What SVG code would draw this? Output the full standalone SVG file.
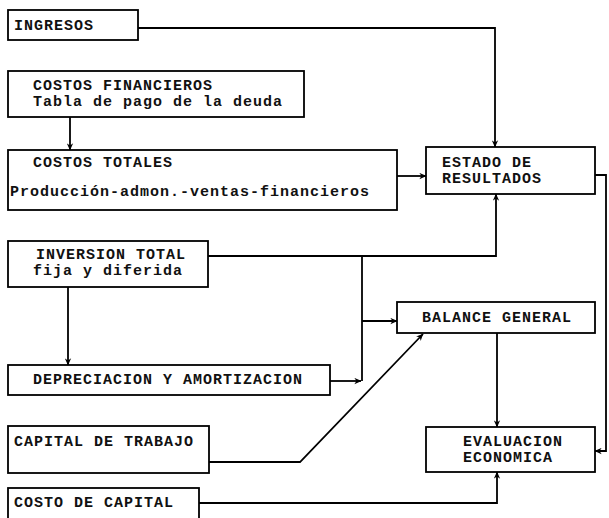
<svg xmlns="http://www.w3.org/2000/svg" width="609" height="518" viewBox="0 0 609 518">
<defs>
<marker id="ah" viewBox="0 0 10 10" refX="9.5" refY="5" markerWidth="7" markerHeight="7" orient="auto" markerUnits="userSpaceOnUse">
<path d="M0,0.5 L10,5 L0,9.5 L3,5 Z" fill="#000"/>
</marker>
<style>
.box{fill:#fff;stroke:#000;stroke-width:1.8}
.t{font-family:"Liberation Mono","Courier New",monospace;font-weight:bold;font-size:15px;letter-spacing:1px;fill:#111}
.c{fill:none;stroke:#000;stroke-width:1.8}
</style>
</defs>
<rect width="609" height="518" fill="#fff"/>
<g id="connectors">
<path class="c" d="M138,28 H495 V147" marker-end="url(#ah)"/>
<path class="c" d="M70,117 V150" marker-end="url(#ah)"/>
<path class="c" d="M397,176 H426" marker-end="url(#ah)"/>
<path class="c" d="M595,175 H606 V451 H595" marker-end="url(#ah)"/>
<path class="c" d="M208,256 H496 V194" marker-end="url(#ah)"/>
<path class="c" d="M362,256 V381"/>
<path class="c" d="M362,321 H397" marker-end="url(#ah)"/>
<path class="c" d="M330,381 H361" marker-end="url(#ah)"/>
<path class="c" d="M68,287 V365" marker-end="url(#ah)"/>
<path class="c" d="M209,462 H300 L423,334" marker-end="url(#ah)"/>
<path class="c" d="M497,333 V427" marker-end="url(#ah)"/>
<path class="c" d="M199,503 H497 V472" marker-end="url(#ah)"/>
</g>
<g id="ingresos">
<rect class="box" x="8" y="10" width="130" height="30"/>
<text class="t" x="14" y="30">INGRESOS</text>
</g>
<g id="costos-financieros">
<rect class="box" x="8" y="71" width="296" height="46"/>
<text class="t" x="33" y="90">COSTOS FINANCIEROS</text>
<text class="t" x="33" y="106">Tabla de pago de la deuda</text>
</g>
<g id="costos-totales">
<rect class="box" x="8" y="150" width="389" height="60"/>
<text class="t" x="33" y="167">COSTOS TOTALES</text>
<text class="t" x="10" y="196">Producción-admon.-ventas-financieros</text>
</g>
<g id="estado-resultados">
<rect class="box" x="426" y="147" width="169" height="47"/>
<text class="t" x="442" y="167">ESTADO DE</text>
<text class="t" x="442" y="183">RESULTADOS</text>
</g>
<g id="inversion-total">
<rect class="box" x="8" y="241" width="200" height="46"/>
<text class="t" x="36" y="259">INVERSION TOTAL</text>
<text class="t" x="33" y="275">fija y diferida</text>
</g>
<g id="balance-general">
<rect class="box" x="397" y="302" width="198" height="31"/>
<text class="t" x="422" y="322">BALANCE GENERAL</text>
</g>
<g id="depreciacion">
<rect class="box" x="8" y="365" width="322" height="30"/>
<text class="t" x="33" y="384">DEPRECIACION Y AMORTIZACION</text>
</g>
<g id="capital-trabajo">
<rect class="box" x="8" y="426" width="201" height="47"/>
<text class="t" x="14" y="446">CAPITAL DE TRABAJO</text>
</g>
<g id="evaluacion-economica">
<rect class="box" x="426" y="427" width="169" height="45"/>
<text class="t" x="463" y="446">EVALUACION</text>
<text class="t" x="463" y="462">ECONOMICA</text>
</g>
<g id="costo-capital">
<rect class="box" x="8" y="488" width="191" height="40"/>
<text class="t" x="14" y="507">COSTO DE CAPITAL</text>
</g>
</svg>
